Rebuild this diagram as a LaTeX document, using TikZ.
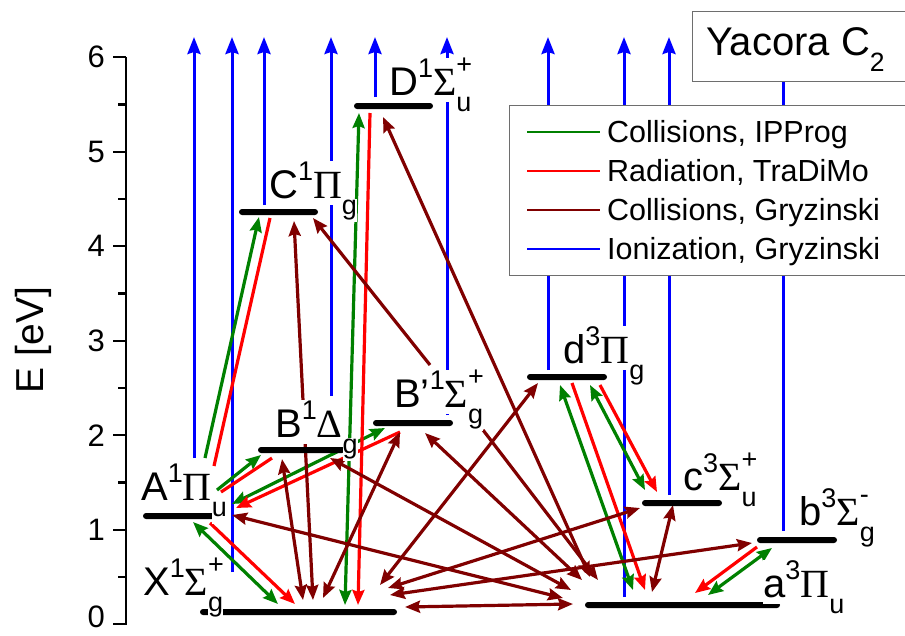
\documentclass[tikz,border=0pt]{standalone}
\usepackage{fontspec}
\setmainfont{Liberation Sans}
\newfontfamily\grk{Liberation Serif}
\usetikzlibrary{arrows.meta}
\definecolor{ipgreen}{RGB}{0,128,0}
\definecolor{tdred}{RGB}{255,0,0}
\definecolor{grybrown}{RGB}{128,0,0}
\definecolor{ionblue}{RGB}{0,0,255}
\definecolor{boxgray}{RGB}{110,110,110}

%% fonts for the term labels
\newcommand{\bigf}{\fontsize{40}{44}\selectfont}
\newcommand{\scf}{\fontsize{27}{30}\selectfont}
\newcommand{\wbx}[1]{{\fboxsep=0pt\colorbox{white}{#1}}}
%% letter, multiplicity, Greek, sign, subscript
\newcommand{\term}[5]{%
  \wbx{\rule[-0.17em]{0pt}{1.05em}#1\raisebox{0.45em}{\scf #2}{\grk #3}}%
  \rlap{\raisebox{0.55em}{\wbx{\scf\rule[-0.1em]{0pt}{0.75em}#4}}}%
  \raisebox{-0.42em}{\wbx{\scf\rule[-0.25em]{0pt}{0.85em}#5}}}

\tikzset{
  %% ---- levels and labels ----
  lvl/.style    = {rectangle, fill=black, inner sep=0pt,
                   minimum height=6pt, rounded corners=3pt},
  term/.style   = {anchor=base west, inner sep=0pt, font=\bigf},
  ticklab/.style= {anchor=east, inner sep=0pt,
                   font=\fontsize{31}{34}\selectfont},
  legbox/.style = {rectangle, draw=boxgray, line width=1.3pt, fill=white,
                   inner sep=0pt},
  legtext/.style= {anchor=base west, inner sep=0pt,
                   font=\fontsize{30.5}{34}\selectfont},
  %% ---- arrows ----
  axis/.style   = {line width=2.3pt},
  ion/.style    = {-{Stealth[length=17pt,width=13pt,inset=2pt]},
                   line width=3pt, color=ionblue},
  coll/.style   = {line width=3.2pt, color=ipgreen},
  rad/.style    = {line width=3.2pt, color=tdred},
  gry/.style    = {line width=3.2pt, color=grybrown},
}

\begin{document}
\begin{tikzpicture}[x=1pt, y=-1pt,
    >={Stealth[length=15pt,width=12pt,inset=2pt]}]
  \useasboundingbox (0,0) rectangle (905,635);

  %% Energy axis
  \draw[axis] (126,57) -- (126,625);
  \foreach \e in {0,...,6}{
    \draw[axis] (113,{624.3-94.5*\e}) -- (126,{624.3-94.5*\e});
    \node[ticklab] (t\e) at (105,{min(624.3-94.5*\e,617)}) {\e};
  }
  \foreach \e in {0.5,1.5,...,5.5}
    \draw[axis] (118,{624.3-94.5*\e}) -- (126,{624.3-94.5*\e});
  \node[rotate=90, anchor=base, inner sep=0pt,
    font=\fontsize{39}{42}\selectfont] (ylab) at (43,340) {E [eV]};

  %% Ionization, Gryzinski
  \foreach \x/\y in {194/458, 232/572, 264/205, 331/396, 375/97,
                     447/415, 548/370, 624/597, 669/495, 783/531}
    \draw[ion] (\x,\y) -- (\x,37);

  %% Collisions, IPProg / Radiation, TraDiMo
  \draw[coll, ->] (205,458) -- (259,217);
  \draw[rad] (270,218) -- (214,466);
  \draw[coll, ->] (217,490) -- (261,455);
  \draw[rad] (272,458) -- (221,492);
  \draw[coll, <->] (232,504) -- (385,428);
  \draw[rad, ->] (400,432) -- (236,508);
  \draw[coll, <->] (193,522) -- (278,604);
  \draw[rad, ->] (210,523) -- (295,604);
  \draw[coll, <->] (345,605) -- (359,113);
  \draw[rad, ->] (370,113) -- (358,605);
  \draw[coll, <->] (560,385) -- (633,590);
  \draw[rad, ->] (572,383) -- (645,590);
  \draw[coll, <->] (590,385) -- (645,490);
  \draw[rad, ->] (600,385) -- (657,492);
  \draw[coll, <->] (708,595) -- (772,548);
  \draw[rad, ->] (757,547) -- (695,593);

  %% Collisions, Gryzinski
  \draw[gry, <->] (405,607) -- (573,604);
  \draw[gry, <->] (303,600) -- (282,459);
  \draw[gry, <->] (313,600) -- (294,221);
  \draw[gry, <->] (323,598) -- (400,432);
  \draw[gry, <->] (380,585) -- (538,383);
  \draw[gry, <->] (388,588) -- (640,508);
  \draw[gry, <->] (390,595) -- (752,543);
  \draw[gry, <->] (652,592) -- (673,505);
  \draw[gry, <->] (232,515) -- (563,598);
  \draw[gry, <->] (330,458) -- (571,590);
  \draw[gry, <->] (425,433) -- (582,580);
  \draw[gry, ->] (483,430) -- (598,580);
  \draw[gry, <->] (383,117) -- (590,577);
  \draw[gry, ->] (430,365) -- (313,218);

  %% Levels
  \node[lvl, minimum width=197pt] (X1)  at (298.5,612) {};
  \node[lvl, minimum width=72pt]  (A1)  at (179,516)   {};
  \node[lvl, minimum width=87pt]  (B1)  at (301.5,450) {};
  \node[lvl, minimum width=80pt]  (Bp1) at (413,423)   {};
  \node[lvl, minimum width=79pt]  (C1)  at (278.5,212) {};
  \node[lvl, minimum width=79pt]  (D1)  at (393.5,106) {};
  \node[lvl, minimum width=80pt]  (d3)  at (567,377)   {};
  \node[lvl, minimum width=80pt]  (c3)  at (682,503)   {};
  \node[lvl, minimum width=80pt]  (b3)  at (797,540)   {};
  \node[lvl, minimum width=195pt] (a3)  at (682.5,605) {};

  %% Term labels
  \node[term] (tX1)  at (143,595) {\term{X}{1}{Σ}{+}{g}};
  \node[term] (tA1)  at (141,500) {\term{A}{1}{Π}{}{u}};
  \node[term] (tB1)  at (275,437) {\term{B}{1}{Δ}{}{g}};
  \node[term] (tBp1) at (394,407) {\term{B'}{1}{Σ}{+}{g}};
  \node[term] (tC1)  at (269,198) {\term{C}{1}{Π}{}{g}};
  \node[term] (tD1)  at (389,95)  {\term{D}{1}{Σ}{+}{u}};
  \node[term] (td3)  at (563,363) {\term{d}{3}{Π}{}{g}};
  \node[term] (tc3)  at (683,490) {\term{c}{3}{Σ}{+}{u}};
  \node[term] (tb3)  at (799,525) {\term{b}{3}{Σ}{-}{g}};
  \node[term] (ta3)  at (763,597) {\term{a}{3}{Π}{}{u}};

  %% Legend
  \node[legbox, anchor=north west, minimum width=400pt,
    minimum height=170pt] (leg) at (509,105) {};
  \foreach \c/\t [count=\i] in {ipgreen/{Collisions, IPProg},
      tdred/{Radiation, TraDiMo}, grybrown/{Collisions, Gryzinski},
      ionblue/{Ionization, Gryzinski}}{
    \draw[line width=1.8pt, color=\c] (527,{92.6+39.1*\i}) -- (600,{92.6+39.1*\i});
    \node[legtext] (leg\i) at (607,{103.3+39.1*\i}) {\t};
  }

  %% Title box
  \node[legbox, anchor=north west, minimum width=220pt,
    minimum height=70pt] (ttl) at (692,10.7) {};
  \node[term] (ttltext) at (706,55)
    {Yacora C\raisebox{-0.42em}{\fontsize{26.5}{29}\selectfont 2}};

\end{tikzpicture}
\end{document}
